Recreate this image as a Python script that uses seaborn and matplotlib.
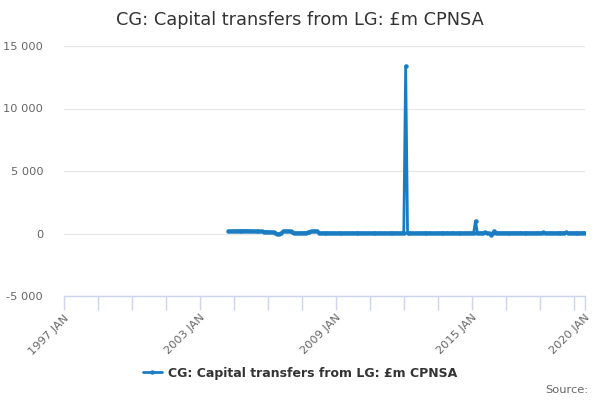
import matplotlib
matplotlib.use("Agg")
import matplotlib.pyplot as plt
import seaborn as sns
import pandas as pd

# ---- data (monthly, first value = 2004 APR) ----
start_year, start_month = 2004, 4
v2004 = [190, 195, 200, 200, 205, 210, 215, 220, 230]
v2005 = [240, 235, 220, 200, 190, 185, 180, 175, 170, 165, 160, 155]
v2006 = [140, 130, 120, 100, 30, -30, -20, 40, 170, 190, 200, 190]
v2007 = [180, 90, 60, 50, 50, 60, 60, 70, 80, 90, 110, 170]
v2008 = [190, 200, 180, 60, 40, 50, 40, 50, 45, 50, 40, 50]
v2009 = [45, 40, 50, 30, 40, 45, 50, 40, 45, 50, 40, 55]
v2010 = [40, 45, 50, 35, 40, 50, 45, 40, 50, 45, 40, 55]
v2011 = [45, 40, 55, 30, 40, 50, 45, 40, 50, 45, 40, 50]
v2012 = [45, 13400, 50, 40, 35, 45, 40, 45, 50, 40, 45, 55]
v2013 = [40, 45, 60, 30, 40, 45, 50, 40, 45, 50, 40, 60]
v2014 = [45, 40, 70, 35, 40, 45, 50, 40, 45, 50, 45, 60]
v2015 = [40, 50, 1000, 50, 40, 60, 45, 120, 30, 40, -100, 60]
v2016 = [200, 60, 80, 40, 50, 45, 60, 40, 50, 45, 60, 70]
v2017 = [50, 45, 80, 40, 50, 45, 60, 40, 50, 45, 60, 70]
v2018 = [55, 45, 90, 40, 50, 45, 60, 40, 50, 45, 55, 70]
v2019 = [50, 45, 100, 40, 55, 45, 60, 40, 50, 45, 60, 70]
v2020 = [50]

axis_start_year = 1997
x_tick_step = 18
x_label_years = [1997, 2003, 2009, 2015, 2020]
y_ticks = [-5000, 0, 5000, 10000, 15000]
series_name = "CG: Capital transfers from LG: £m CPNSA"
title = "CG: Capital transfers from LG: £m CPNSA"

values = (v2004 + v2005 + v2006 + v2007 + v2008 + v2009 + v2010 + v2011 +
          v2012 + v2013 + v2014 + v2015 + v2016 + v2017 + v2018 + v2019 + v2020)
first_idx = (start_year - axis_start_year) * 12 + (start_month - 1)
df = pd.DataFrame({"m": list(range(first_idx, first_idx + len(values))),
                   "value": values})

sns.set_style("white")
plt.rcParams["font.family"] = ["DejaVu Sans"]

fig = plt.figure(figsize=(6, 4), dpi=100)
ax = fig.add_axes([64 / 600, 1 - 296 / 400, (585 - 64) / 600, (296 - 46) / 400])

color = "#1a7dc1"
sns.lineplot(data=df, x="m", y="value", ax=ax, color=color, linewidth=2,
             marker="o", markersize=3.2, markeredgewidth=0, label=series_name,
             legend=False)

x_end = (2020 - axis_start_year) * 12
ax.set_xlim(0, x_end)
ax.set_ylim(-5000, 15000)

ticks = list(range(0, x_end, x_tick_step)) + [x_end]
ax.set_xticks(ticks)
label_pos = [(y - axis_start_year) * 12 for y in x_label_years]
ax.set_xticklabels([f"{(t // 12) + axis_start_year} JAN" if t in label_pos else "" for t in ticks],
                   rotation=45, ha="right", rotation_mode="anchor")
ax.tick_params(axis="x", bottom=True, direction="out", length=10, width=1, color="#ccd6eb",
               labelsize=8.2, labelcolor="#666666", pad=2)

ax.set_yticks(y_ticks)
ax.set_yticklabels([f"{v:,}".replace(",", " ") for v in y_ticks])
ax.tick_params(axis="y", left=False, length=0, labelsize=8.2, labelcolor="#666666", pad=15)
ax.grid(axis="y", color="#e6e6e6", linewidth=1)
ax.grid(axis="x", visible=False)
ax.set_axisbelow(True)

for s in ["top", "right", "left"]:
    ax.spines[s].set_visible(False)
ax.spines["bottom"].set_color("#ccd6eb")
ax.spines["bottom"].set_linewidth(1)
ax.set_xlabel("")
ax.set_ylabel("")

fig.text(0.5, 1 - 20 / 400, title, ha="center", va="center", fontsize=12.8, color="#333333")

handles, labels = ax.get_legend_handles_labels()
leg = fig.legend(handles, labels, loc="center", bbox_to_anchor=(0.5, 1 - 373 / 400),
                 frameon=False, handlelength=1.5, handletextpad=0.5,
                 prop={"weight": "bold", "size": 9})
for t in leg.get_texts():
    t.set_color("#333333")

fig.text(588 / 600, 1 - 390 / 400, "Source:", ha="right", va="center", fontsize=8.2, color="#666666")

fig.savefig("out.png", dpi=100, facecolor="white")
